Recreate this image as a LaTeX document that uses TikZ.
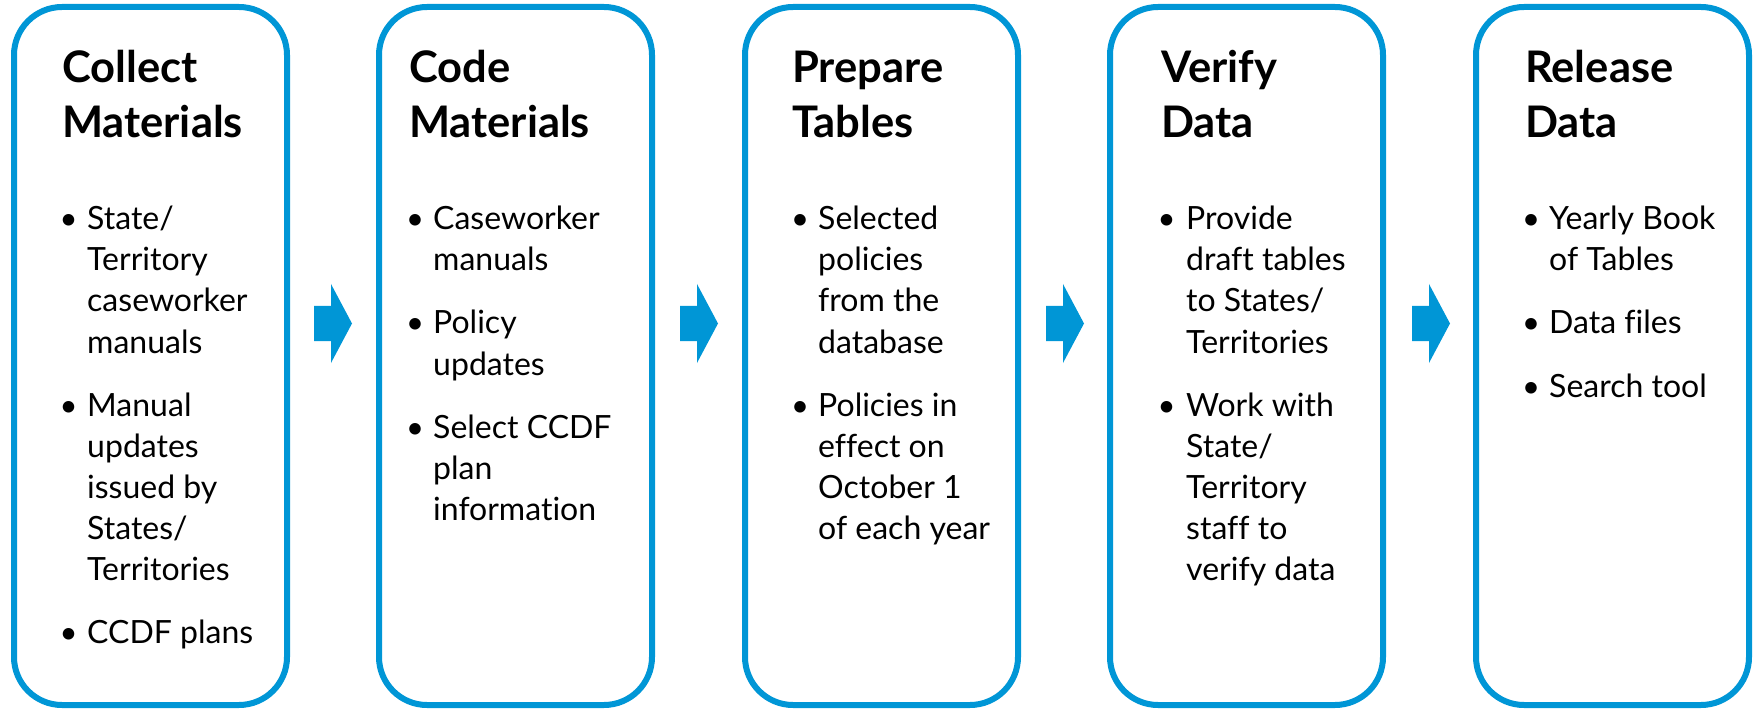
\documentclass[tikz,border=0pt]{standalone}
\usepackage{fontspec}
\setmainfont{Lato}[Ligatures=NoCommon]
\definecolor{flowblue}{RGB}{0,150,214}
\tikzset{
  stagebox/.style={draw=flowblue, line width=6pt, rounded corners=48pt,
    minimum width=273pt, minimum height=698pt, inner sep=0pt, fill=white},
  ttl/.style={anchor=base west, inner sep=0pt, font=\fontsize{43.5}{50}\selectfont\bfseries},
  txt/.style={anchor=base west, inner sep=0pt, font=\fontsize{32}{41}\selectfont},
  bul/.style={anchor=base, inner sep=0pt, font=\fontsize{31}{41}\selectfont},
  flowarrow/.style={fill=flowblue}
}
\begin{document}
\begin{tikzpicture}[x=1pt,y=-1pt]
\useasboundingbox (0,0) rectangle (1759,711);

% boxes
\node[stagebox] (s1) at (150.5,356) {};
\node[stagebox] (s2) at (515.5,356) {};
\node[stagebox] (s3) at (881.5,356) {};
\node[stagebox] (s4) at (1246.5,356) {};
\node[stagebox] (s5) at (1612.5,356) {};

% arrows
\foreach \n/\cx in {1/333, 2/699, 3/1065, 4/1431}{
  \coordinate (a\n) at (\cx,323.5);
  \fill[flowarrow, shift={(a\n)}] (-19,-17.5) -- (-2,-17.5) -- (-2,-39.5) -- (19,0)
     -- (-2,39.5) -- (-2,17.5) -- (-19,17.5) -- cycle;
}

% box 1
\node[ttl] (t1a) at (62,83) {Collect};
\node[ttl] (t1b) at (62,138) {Materials};
\node[bul] (b1a) at (68.5,230) {•};
\node[txt] (l1a) at (87,230) {State/};
\node[txt] (l1b) at (87,271) {Territory};
\node[txt] (l1c) at (87,312) {caseworker};
\node[txt] (l1d) at (87,353) {manuals};
\node[bul] (b1b) at (68.5,416) {•};
\node[txt] (l1e) at (87,416) {Manual};
\node[txt] (l1f) at (87,457) {updates};
\node[txt] (l1g) at (87,498) {issued by};
\node[txt] (l1h) at (87,539) {States/};
\node[txt] (l1i) at (87,580) {Territories};
\node[bul] (b1c) at (68.5,643) {•};
\node[txt] (l1j) at (87,643) {CCDF plans};

% box 2
\node[ttl] (t2a) at (409,83) {Code};
\node[ttl] (t2b) at (409,138) {Materials};
\node[bul] (b2a) at (415,230) {•};
\node[txt] (l2a) at (433,230) {Caseworker};
\node[txt] (l2b) at (433,271) {manuals};
\node[bul] (b2b) at (415,334) {•};
\node[txt] (l2c) at (433,334) {Policy};
\node[txt] (l2d) at (433,375) {updates};
\node[bul] (b2c) at (415,438) {•};
\node[txt] (l2e) at (433,438) {Select CCDF};
\node[txt] (l2f) at (433,479) {plan};
\node[txt] (l2g) at (433,520) {information};

% box 3
\node[ttl] (t3a) at (792,83) {Prepare};
\node[ttl] (t3b) at (792,138) {Tables};
\node[bul] (b3a) at (800,230) {•};
\node[txt] (l3a) at (818,230) {Selected};
\node[txt] (l3b) at (818,271) {policies};
\node[txt] (l3c) at (818,312) {from the};
\node[txt] (l3d) at (818,353) {database};
\node[bul] (b3b) at (800,416) {•};
\node[txt] (l3e) at (818,416) {Policies in};
\node[txt] (l3f) at (818,457) {effect on};
\node[txt] (l3g) at (818,498) {October 1};
\node[txt] (l3h) at (818,539) {of each year};

% box 4
\node[ttl] (t4a) at (1161,83) {Verify};
\node[ttl] (t4b) at (1161,138) {Data};
\node[bul] (b4a) at (1166.5,230) {•};
\node[txt] (l4a) at (1186,230) {Provide};
\node[txt] (l4b) at (1186,271) {draft tables};
\node[txt] (l4c) at (1186,312) {to States/};
\node[txt] (l4d) at (1186,353) {Territories};
\node[bul] (b4b) at (1166.5,416) {•};
\node[txt] (l4e) at (1186,416) {Work with};
\node[txt] (l4f) at (1186,457) {State/};
\node[txt] (l4g) at (1186,498) {Territory};
\node[txt] (l4h) at (1186,539) {staff to};
\node[txt] (l4i) at (1186,580) {verify data};

% box 5
\node[ttl] (t5a) at (1525,83) {Release};
\node[ttl] (t5b) at (1525,138) {Data};
\node[bul] (b5a) at (1531,230) {•};
\node[txt] (l5a) at (1549,230) {Yearly Book};
\node[txt] (l5b) at (1549,271) {of Tables};
\node[bul] (b5b) at (1531,334) {•};
\node[txt] (l5c) at (1549,334) {Data files};
\node[bul] (b5c) at (1531,397) {•};
\node[txt] (l5d) at (1549,397) {Search tool};
\end{tikzpicture}
\end{document}
